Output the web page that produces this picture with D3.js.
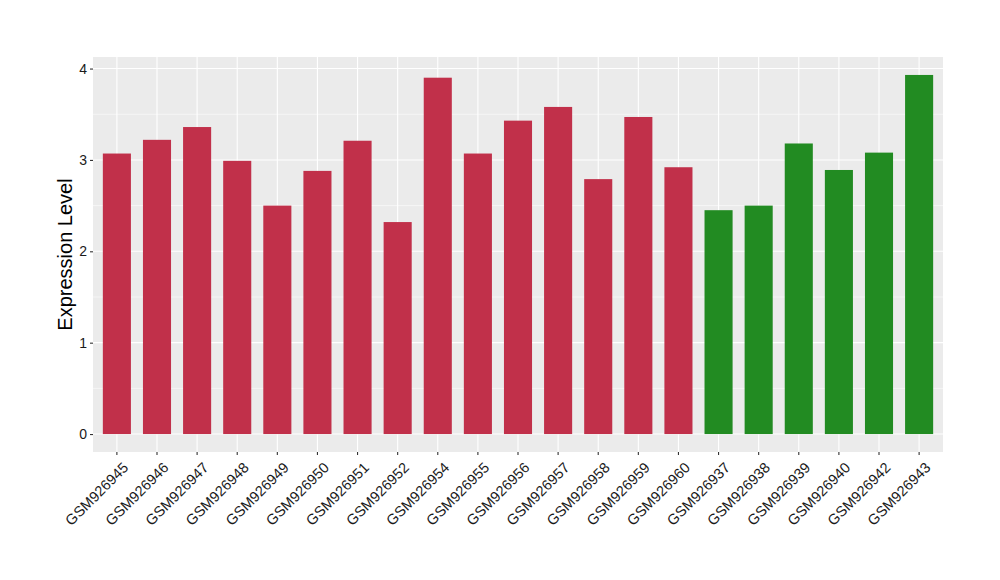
<!DOCTYPE html>
<html><head><meta charset="utf-8">
<script src="https://cdn.jsdelivr.net/npm/d3@7"></script>
<style>body{margin:0;background:#fff;} text{font-family:"Liberation Sans",Arial,sans-serif;}</style>
</head><body><svg id="c" width="1000" height="580"></svg>
<script>
const samples = ["GSM926945","GSM926946","GSM926947","GSM926948","GSM926949","GSM926950","GSM926951","GSM926952","GSM926954","GSM926955","GSM926956","GSM926957","GSM926958","GSM926959","GSM926960","GSM926937","GSM926938","GSM926939","GSM926940","GSM926942","GSM926943"];
const values = [3.07,3.22,3.36,2.99,2.50,2.88,3.21,2.32,3.90,3.07,3.43,3.58,2.79,3.47,2.92,2.45,2.50,3.18,2.89,3.08,3.93];
const groups = ["A","A","A","A","A","A","A","A","A","A","A","A","A","A","A","B","B","B","B","B","B"];
const groupColors = {A:"#C1304A", B:"#228B22"};
const yTicks = [0,1,2,3,4];

const svg = d3.select("#c");
const L=93, R=943, T=57, B=452;
const n = samples.length;
const step = (R-L)/(n+1.2);
const x = d3.scaleBand().domain(samples).range([L+0.6*step-step*0.5, R-0.6*step+step*0.5]).paddingInner(0.3).paddingOuter(0.15);
const maxV = d3.max(values);
const y = d3.scaleLinear().domain([-0.05*maxV, maxV*1.05]).range([B,T]);

svg.append("rect").attr("x",L).attr("y",T).attr("width",R-L).attr("height",B-T).attr("fill","#EBEBEB");
const minor = yTicks.slice(0,-1).map(d=>d+0.5);
svg.selectAll(".mn").data(minor).enter().append("line").attr("x1",L).attr("x2",R)
  .attr("y1",d=>y(d)).attr("y2",d=>y(d)).attr("stroke","#fff").attr("stroke-width",0.55);
svg.selectAll(".mj").data(yTicks).enter().append("line").attr("x1",L).attr("x2",R)
  .attr("y1",d=>y(d)).attr("y2",d=>y(d)).attr("stroke","#fff").attr("stroke-width",1.1);
const cx = d=>x(d)+x.bandwidth()/2;
svg.selectAll(".vg").data(samples).enter().append("line").attr("y1",T).attr("y2",B)
  .attr("x1",cx).attr("x2",cx).attr("stroke","#fff").attr("stroke-width",1.1);

svg.selectAll(".bar").data(samples).enter().append("rect")
  .attr("x",d=>x(d)).attr("width",x.bandwidth())
  .attr("y",(d,i)=>y(values[i])).attr("height",(d,i)=>y(0)-y(values[i]))
  .attr("fill",(d,i)=>groupColors[groups[i]]);

const ya = svg.append("g").attr("transform",`translate(${L},0)`)
  .call(d3.axisLeft(y).tickValues(yTicks).tickSize(3).tickPadding(3).tickFormat(d3.format("d")));
ya.select(".domain").remove();
ya.selectAll("line").attr("stroke","#333").attr("stroke-width",1.1);
ya.selectAll("text").attr("fill","#1a1a1a").style("font-size","14px").style("font-family","'Liberation Sans',Arial,sans-serif");

const xa = svg.append("g").attr("transform",`translate(0,${B})`)
  .call(d3.axisBottom(x).tickSize(3).tickPadding(3));
xa.select(".domain").remove();
xa.selectAll("line").attr("stroke","#333").attr("stroke-width",1.1);
xa.selectAll("text").attr("fill","#1a1a1a").style("font-size","14.6px").style("font-family","'Liberation Sans',Arial,sans-serif")
  .attr("text-anchor","end").attr("y",0).attr("dy","0.72em").attr("dx","0")
  .attr("transform","translate(5,9) rotate(-45)");

svg.append("text").attr("transform",`translate(72,${(T+B)/2}) rotate(-90)`)
  .attr("text-anchor","middle").style("font-size","20px").attr("fill","#000").text("Expression Level");
</script></body></html>
